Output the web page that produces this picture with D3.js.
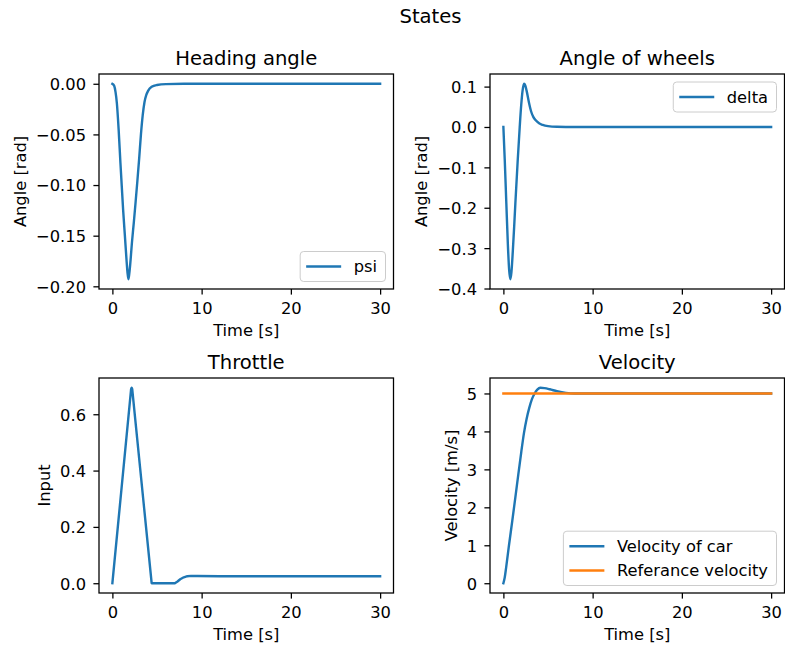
<!DOCTYPE html>
<html>
<head>
<meta charset="utf-8">
<script src="https://cdn.jsdelivr.net/npm/d3@7"></script>
<style>
  body { margin: 0; background: #fff; }
  text { font-family: "DejaVu Sans", sans-serif; fill: #000; }
</style>
</head>
<body>
<div id="chart-container"></div>
<script>
// samples (time in s)
var psiTime = [0, 0.2, 0.35, 0.5, 0.7, 0.9, 1.05, 1.2, 1.4, 1.6, 1.7, 1.8, 1.9, 2.0, 2.2, 2.4, 2.6, 2.8, 3.0, 3.2, 3.4, 3.6, 3.8, 4.0, 4.4, 5.0, 6.0, 8.0, 30];
var psiValues = [0, -0.002, -0.008, -0.019, -0.045, -0.078, -0.101, -0.124, -0.150, -0.176, -0.187, -0.193, -0.187, -0.178, -0.156, -0.137, -0.117, -0.096, -0.074, -0.050, -0.031, -0.018, -0.011, -0.007, -0.003, -0.0012, -0.0003, 0, 0];

var deltaTime = [0, 0.15, 0.33, 0.5, 0.65, 0.78, 0.9, 1.05, 1.2, 1.34, 1.6, 1.83, 2.0, 2.15, 2.31, 2.45, 2.6, 2.87, 3.1, 3.35, 3.6, 4.0, 4.4, 5.0, 6.0, 8.0, 30];
var deltaValues = [0, -0.08, -0.189, -0.29, -0.355, -0.377, -0.36, -0.31, -0.25, -0.19, -0.085, 0, 0.055, 0.09, 0.107, 0.103, 0.09, 0.06, 0.039, 0.025, 0.017, 0.009, 0.005, 0.002, 0.0005, 0, 0];

var throttleTime = [0, 2.1, 2.16, 2.22, 4.4, 7.0, 7.3, 7.6, 8.0, 8.4, 8.8, 9.5, 12, 30];
var throttleValues = [0, 0.69, 0.694, 0.69, 0, 0, 0.006, 0.014, 0.021, 0.025, 0.026, 0.0255, 0.025, 0.025];

var velocityTime = [0, 0.15, 0.3, 0.6, 1.0, 1.5, 2.0, 2.3, 2.6, 2.9, 3.2, 3.5, 3.8, 4.14, 4.6, 5.2, 6.0, 7.0, 7.5, 8.0, 30];
var velocityValues = [0, 0.15, 0.4, 0.95, 1.65, 2.55, 3.45, 3.95, 4.33, 4.62, 4.85, 5.0, 5.1, 5.15, 5.14, 5.11, 5.06, 5.015, 5.003, 5.0, 5.0];

var refTime = [0, 30];
var refValues = [5, 5];

var timeTicks = [0, 10, 20, 30];
var psiTicks = [0, -0.05, -0.10, -0.15, -0.20];
var deltaTicks = [0.1, 0, -0.1, -0.2, -0.3, -0.4];
var throttleTicks = [0, 0.2, 0.4, 0.6];
var velocityTicks = [0, 1, 2, 3, 4, 5];

var blue = '#1f77b4', orange = '#ff7f0e';

function zip(t, v) { return t.map(function(d, i) { return [d, v[i]]; }); }

var panels = [
  { title: 'Heading angle', ylabel: 'Angle [rad]', left: 99, top: 74, ticks: psiTicks, fmt: '.2f',
    curve: d3.curveMonotoneX, legend: 'lower right',
    series: [{ name: 'psi', color: blue, data: zip(psiTime, psiValues) }] },
  { title: 'Angle of wheels', ylabel: 'Angle [rad]', left: 490, top: 74, ticks: deltaTicks, fmt: '.1f',
    curve: d3.curveMonotoneX, legend: 'upper right',
    series: [{ name: 'delta', color: blue, data: zip(deltaTime, deltaValues) }] },
  { title: 'Throttle', ylabel: 'Input', left: 99, top: 378, ticks: throttleTicks, fmt: '.1f',
    curve: d3.curveLinear, legend: null,
    series: [{ name: 'throttle', color: blue, data: zip(throttleTime, throttleValues) }] },
  { title: 'Velocity', ylabel: 'Velocity [m/s]', left: 490, top: 378, ticks: velocityTicks, fmt: 'd',
    curve: d3.curveMonotoneX, legend: 'lower right',
    series: [{ name: 'Velocity of car', color: blue, data: zip(velocityTime, velocityValues) },
             { name: 'Referance velocity', color: orange, data: zip(refTime, refValues) }] }
];

var W = 785, H = 650;
var pw = 294.5, ph = 215;
var fs = 16.3, tfs = 19.6;

var svg = d3.select('#chart-container').append('svg')
  .attr('width', W).attr('height', H);

svg.append('text')
  .attr('x', 430.5).attr('y', 23.3)
  .attr('text-anchor', 'middle')
  .style('font-size', tfs + 'px')
  .text('States');

panels.forEach(function(p, k) {
  var g = svg.append('g').attr('transform', 'translate(' + p.left + ',' + p.top + ')');

  // matplotlib style 5% margins
  var x = d3.scaleLinear().domain([-1.5, 31.5]).range([0, pw]);
  var all = [];
  p.series.forEach(function(s) { s.data.forEach(function(d) { all.push(d[1]); }); });
  var ext = d3.extent(all), m = (ext[1] - ext[0]) * 0.05;
  var y = d3.scaleLinear().domain([ext[0] - m, ext[1] + m]).range([ph, 0]);

  g.append('clipPath').attr('id', 'clip' + k)
    .append('rect').attr('width', pw).attr('height', ph);

  var line = d3.line().x(function(d) { return x(d[0]); }).y(function(d) { return y(d[1]); }).curve(p.curve);

  p.series.forEach(function(s) {
    g.append('path').datum(s.data)
      .attr('clip-path', 'url(#clip' + k + ')')
      .attr('d', line)
      .attr('fill', 'none')
      .attr('stroke', s.color)
      .attr('stroke-width', 2.4)
      .attr('stroke-linejoin', 'round')
      .attr('stroke-linecap', 'square');
  });

  var xa = g.append('g').attr('transform', 'translate(0,' + ph + ')')
    .call(d3.axisBottom(x).tickValues(timeTicks).tickSize(5.6).tickPadding(8).tickSizeOuter(0));
  var ya = g.append('g')
    .call(d3.axisLeft(y).tickValues(p.ticks).tickFormat(d3.format(p.fmt)).tickSize(5.6).tickPadding(7.4).tickSizeOuter(0));

  [xa, ya].forEach(function(a) {
    a.select('.domain').remove();
    a.selectAll('line').attr('stroke', '#000').attr('stroke-width', 1.28);
    a.selectAll('text').style('font-size', fs + 'px').style('font-family', '"DejaVu Sans", sans-serif');
  });
  ya.selectAll('text').attr('dy', '0.36em');

  g.append('rect').attr('width', pw).attr('height', ph)
    .attr('fill', 'none').attr('stroke', '#000').attr('stroke-width', 1.28);

  g.append('text')
    .attr('x', pw / 2).attr('y', -9)
    .attr('text-anchor', 'middle')
    .style('font-size', tfs + 'px')
    .text(p.title);

  g.append('text')
    .attr('x', pw / 2).attr('y', ph + 46.6)
    .attr('text-anchor', 'middle')
    .style('font-size', fs + 'px')
    .text('Time [s]');

  var minX = d3.min(ya.selectAll('text').nodes(), function(n) { return n.getBBox().x; });
  g.append('text')
    .attr('transform', 'translate(' + (minX - 10) + ',' + (ph / 2) + ') rotate(-90)')
    .attr('text-anchor', 'middle')
    .style('font-size', fs + 'px')
    .text(p.ylabel);

  if (p.legend) {
    var lg = g.append('g');
    var box = lg.append('rect');
    var rowH = 24.3, textW = 0;
    p.series.forEach(function(s, i) {
      var cy = 15 + i * rowH;
      lg.append('line').attr('x1', 6).attr('x2', 41).attr('y1', cy).attr('y2', cy)
        .attr('stroke', s.color).attr('stroke-width', 2.4);
      var t = lg.append('text').attr('x', 53.5).attr('y', cy).attr('dy', '0.36em')
        .style('font-size', fs + 'px').text(s.name);
      textW = Math.max(textW, t.node().getComputedTextLength());
    });
    var bw = 53.5 + textW + 8.5;
    var bh = 30 + (p.series.length - 1) * rowH;
    box.attr('width', bw).attr('height', bh).attr('rx', 3.5)
      .attr('fill', '#fff').attr('fill-opacity', 0.8)
      .attr('stroke', '#cccccc').attr('stroke-width', 1);
    var lx = pw - 8 - bw;
    var ly = p.legend === 'upper right' ? 8 : ph - 7.5 - bh;
    lg.attr('transform', 'translate(' + lx + ',' + ly + ')');
  }
});
</script>
</body>
</html>
